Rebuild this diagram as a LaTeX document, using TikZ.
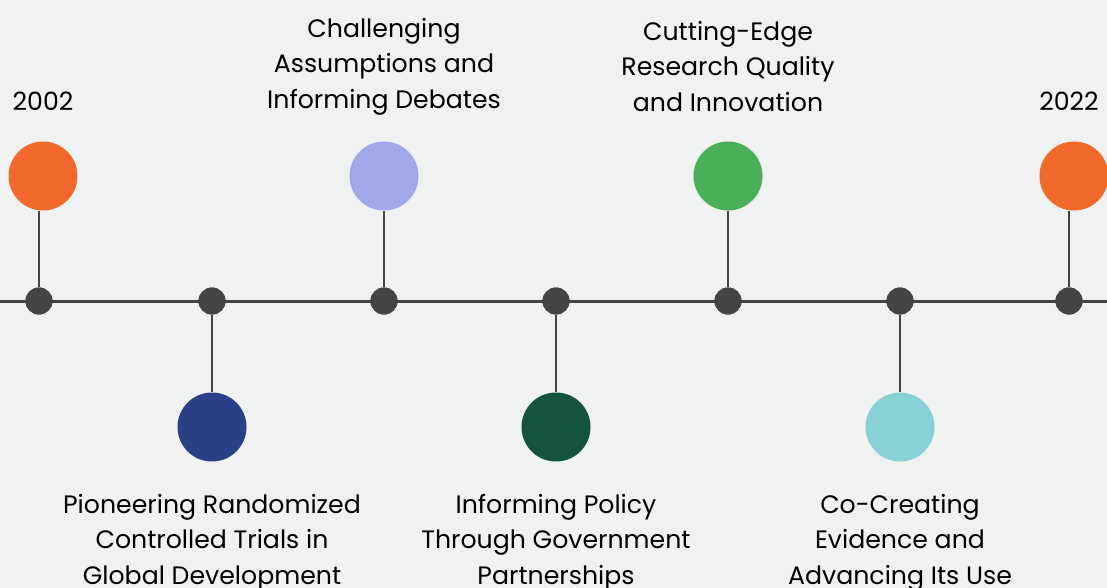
\documentclass[tikz,border=0pt]{standalone}
\usepackage{fontspec}
\setmainfont{Poppins}
\definecolor{bg}{HTML}{F0F2F1}
\definecolor{linec}{HTML}{444446}
\definecolor{orangec}{HTML}{F26A2B}
\definecolor{lavc}{HTML}{A2A9EA}
\definecolor{greenc}{HTML}{48AF57}
\definecolor{navyc}{HTML}{2B3F86}
\definecolor{dgreenc}{HTML}{135340}
\definecolor{tealc}{HTML}{86D2D6}
\begin{document}
\begin{tikzpicture}[x=1pt,y=-1pt,
  dotn/.style={circle,fill=linec,minimum size=27pt,inner sep=0pt},
  bign/.style={circle,minimum size=69pt,inner sep=0pt},
  lbl/.style={align=center,font=\fontsize{25.2}{35.5}\selectfont,text=black,inner sep=0pt},
  conn/.style={draw=linec,line width=3pt}]
\fill[bg] (0,0) rectangle (1107,588);
\useasboundingbox (0,0) rectangle (1107,588);
\coordinate (L) at (0,301);
\coordinate (R) at (1107,301);
\draw[conn] (L) -- (R);
% dots
\node[dotn] (d1) at (39,301) {};
\node[dotn] (d2) at (212,301) {};
\node[dotn] (d3) at (384,301) {};
\node[dotn] (d4) at (556,301) {};
\node[dotn] (d5) at (728,301) {};
\node[dotn] (d6) at (900,301) {};
\node[dotn] (d7) at (1069,301) {};
% big circles
\node[bign,fill=orangec] (c1) at (43,176) {};
\node[bign,fill=navyc] (c2) at (212,427) {};
\node[bign,fill=lavc] (c3) at (384,176) {};
\node[bign,fill=dgreenc] (c4) at (556,427) {};
\node[bign,fill=greenc] (c5) at (728,176) {};
\node[bign,fill=tealc] (c6) at (900,427) {};
\node[bign,fill=orangec] (c7) at (1074,176) {};
% stems
\draw[conn,line width=2.5pt] (d1) -- (d1 |- c1.south);
\draw[conn,line width=2.5pt] (d2) -- (c2);
\draw[conn,line width=2.5pt] (d3) -- (c3);
\draw[conn,line width=2.5pt] (d4) -- (c4);
\draw[conn,line width=2.5pt] (d5) -- (c5);
\draw[conn,line width=2.5pt] (d6) -- (c6);
\draw[conn,line width=2.5pt] (d7) -- (d7 |- c7.south);
% redraw dots on top
\foreach \n in {d1,d2,d3,d4,d5,d6,d7} {\fill[linec] (\n) circle (13.5pt);}
% labels
\node[lbl] (t1) at (43,101) {2002};
\node[lbl] (t3) at (384,66.5) {Challenging\\Assumptions and\\Informing Debates};
\node[lbl] (t5) at (728,66.5) {Cutting-Edge\\Research Quality\\and Innovation};
\node[lbl] (t7) at (1069,101) {2022};
\node[lbl] (t2) at (212,542.5) {Pioneering Randomized\\Controlled Trials in\\Global Development};
\node[lbl] (t4) at (556,542.5) {Informing Policy\\Through Government\\Partnerships};
\node[lbl] (t6) at (900,542.5) {Co-Creating\\Evidence and\\Advancing Its Use};
\end{tikzpicture}
\end{document}
